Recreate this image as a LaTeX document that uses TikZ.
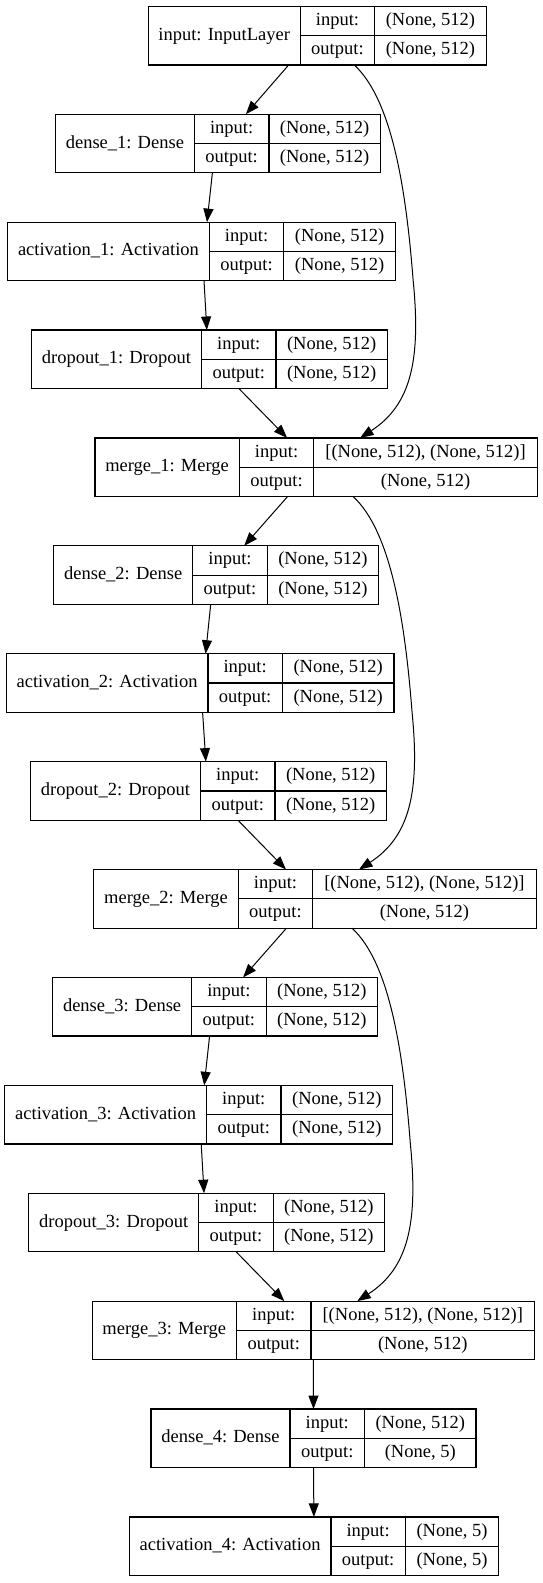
\documentclass[tikz,border=0pt]{standalone}
\usepackage{fontspec}
\setmainfont{Liberation Serif}
\usetikzlibrary{shapes,arrows.meta,positioning,calc}

\tikzset{
  cell/.style={draw, line width=1.2pt, outer sep=0pt, inner sep=0pt,
    text height=13pt, text depth=4pt, anchor=north west},
  frame/.style={cell, draw=none, minimum height=58.6pt},
  namecell/.style={cell, minimum height=58.6pt},
  keycell/.style={cell, minimum height=29.3pt, minimum width=74.5pt},
  valcell/.style={cell, minimum height=29.3pt},
  edge/.style={line width=1pt, -{Triangle[length=13.5pt,width=10pt]}}
}

% one layer record: name, left, top, name width, value width, label, input, output
\newcommand{\layer}[8]{
  \node[frame, minimum width={(#4+74.5+#5)*1pt}] (#1) at (#2,#3) {};
  \node[namecell, minimum width=#4pt] (#1n) at (#1.north west) {#6};
  \node[keycell] (#1i) at (#1n.north east) {input:};
  \node[keycell] (#1o) at (#1i.south west) {output:};
  \node[valcell, minimum width=#5pt] (#1iv) at (#1i.north east) {#7};
  \node[valcell, minimum width=#5pt] (#1ov) at (#1o.north east) {#8};
}

\begin{document}
\begin{tikzpicture}[x=1pt, y=-1pt, font=\fontsize{18.5}{22}\selectfont]
\useasboundingbox (0,0) rectangle (543,1583);

\layer{inp}{148.2}{6.3}{152}{111.5}{input: InputLayer}{(None, 512)}{(None, 512)}
\layer{dense1}{55.4}{114.2}{139}{111.5}{dense\_1: Dense}{(None, 512)}{(None, 512)}
\layer{act1}{7.6}{222.1}{201.7}{111.6}{activation\_1: Activation}{(None, 512)}{(None, 512)}
\layer{drop1}{31.5}{330}{170}{111.4}{dropout\_1: Dropout}{(None, 512)}{(None, 512)}
\layer{merge1}{94.9}{437.9}{144.4}{223.5}{merge\_1: Merge}{[(None, 512), (None, 512)]}{(None, 512)}
\layer{dense2}{53.7}{545.8}{139}{111.5}{dense\_2: Dense}{(None, 512)}{(None, 512)}
\layer{act2}{6.2}{653.7}{201.7}{111.6}{activation\_2: Activation}{(None, 512)}{(None, 512)}
\layer{drop2}{30.5}{761.6}{170}{111.4}{dropout\_2: Dropout}{(None, 512)}{(None, 512)}
\layer{merge2}{93.8}{869.5}{144.4}{223.5}{merge\_2: Merge}{[(None, 512), (None, 512)]}{(None, 512)}
\layer{dense3}{52.6}{977.4}{139}{111.5}{dense\_3: Dense}{(None, 512)}{(None, 512)}
\layer{act3}{4.8}{1085.3}{201.7}{111.6}{activation\_3: Activation}{(None, 512)}{(None, 512)}
\layer{drop3}{28.7}{1193.2}{170}{111.4}{dropout\_3: Dropout}{(None, 512)}{(None, 512)}
\layer{merge3}{92.1}{1301.1}{144.4}{223.5}{merge\_3: Merge}{[(None, 512), (None, 512)]}{(None, 512)}
\layer{dense4}{151}{1409}{139}{111.5}{dense\_4: Dense}{(None, 512)}{(None, 5)}
\layer{act4}{129.2}{1516.9}{201.7}{93.2}{activation\_4: Activation}{(None, 5)}{(None, 5)}

% three blocks with a skip connection each
\foreach \i/\p in {1/inp,2/merge1,3/merge2}{
  \draw[edge] ([xshift=-28.5pt]\p.south) -- ([xshift=28pt]dense\i.north);
  \draw[edge] ([xshift=-5.5pt]dense\i.south) -- ([xshift=5.5pt]act\i.north);
  \draw[edge] ([xshift=2.5pt]act\i.south) -- ([xshift=-2.6pt]drop\i.north);
  \draw[edge] ([xshift=29.5pt]drop\i.south) -- ([xshift=-29pt]merge\i.north);
  \draw[edge] ([xshift=37pt]\p.south) .. controls +(38,35) and +(-7,-90)
    .. ($(merge\i.north)+(97,-158)$) .. controls +(8,80) and +(51,-33)
    .. ([xshift=44pt]merge\i.north);
}
\draw[edge] (merge3.south) -- (dense4.north);
\draw[edge] (dense4.south) -- (act4.north);
\end{tikzpicture}
\end{document}
